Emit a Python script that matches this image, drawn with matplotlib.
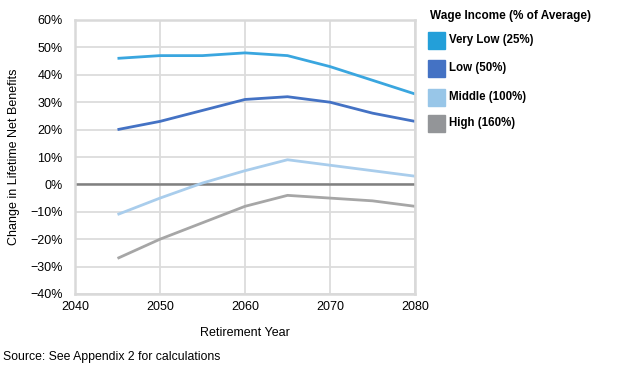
import matplotlib.pyplot as plt
import matplotlib.patches as mpatches

plt.rcParams["font.family"] = ["Liberation Sans", "DejaVu Sans"]

years = [2045, 2050, 2055, 2060, 2065, 2070, 2075, 2080]
very_low = [46, 47, 47, 48, 47, 43, 38, 33]
low = [20, 23, 27, 31, 32, 30, 26, 23]
middle = [-11, -5, 0.5, 5, 9, 7, 5, 3]
high = [-27, -20, -14, -8, -4, -5, -6, -8]

labels = ["Very Low (25%)", "Low (50%)", "Middle (100%)", "High (160%)"]
line_colors = ["#3aa6df", "#4472c4", "#a9cdec", "#a6a6a6"]
patch_colors = ["#239fd9", "#4472c4", "#98c6e8", "#939598"]

fig = plt.figure(figsize=(6.4, 3.75), dpi=100)
ax = fig.add_axes([75 / 640, 1 - 294 / 375, 340 / 640, 274 / 375])

for vals, c in zip([very_low, low, middle, high], line_colors):
    ax.plot(years, vals, color=c, lw=2, solid_capstyle="butt")

ax.axhline(0, color="#808080", lw=1.8, zorder=1)

ax.set_xlim(2040, 2080)
ax.set_ylim(-40, 60)
ax.set_xticks([2040, 2050, 2060, 2070, 2080])
ax.set_yticks(range(-40, 61, 10))
ax.set_yticklabels([f"{v}%".replace("-", "\u2212") for v in range(-40, 61, 10)])
ax.grid(True, color="#dcdcdc", lw=1.3)
ax.set_axisbelow(True)
for s in ax.spines.values():
    s.set_color("#d9d9d9")
    s.set_linewidth(1.8)
ax.tick_params(length=0, labelsize=9)
ax.tick_params(axis="y", pad=9)
ax.tick_params(axis="x", pad=5)

ax.set_xlabel("Retirement Year", fontsize=9, labelpad=10)
ax.set_ylabel("Change in Lifetime Net Benefits", fontsize=9, labelpad=7)

fig.text(430 / 640, 1 - 16 / 375, "Wage Income (% of Average)", fontsize=8.5,
         fontweight="bold", va="center")
rows_y = [40, 68, 97, 123]
for lab, c, ry in zip(labels, patch_colors, rows_y):
    fig.patches.append(mpatches.Rectangle((428 / 640, 1 - (ry + 8.5) / 375), 17 / 640, 17 / 375,
                                          transform=fig.transFigure, color=c))
    fig.text(449 / 640, 1 - ry / 375, lab, fontsize=8.3, fontweight="bold", va="center")

fig.text(3 / 640, 1 - 357 / 375, "Source: See Appendix 2 for calculations", fontsize=8.8,
         va="center")

fig.savefig("out.png", dpi=100)
